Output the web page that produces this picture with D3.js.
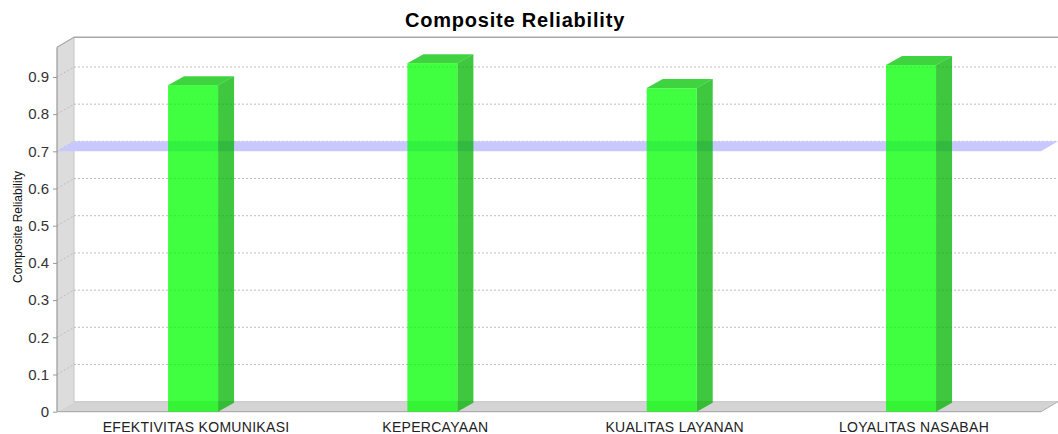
<!DOCTYPE html>
<html>
<head>
<meta charset="utf-8">
<script src="https://cdn.jsdelivr.net/npm/d3@7"></script>
<style>
  html, body { margin: 0; padding: 0; background: #fff; }
  svg { display: block; }
</style>
</head>
<body>
<svg id="chart" width="1058" height="434"></svg>
<script>
const categories = ["EFEKTIVITAS KOMUNIKASI", "KEPERCAYAAN", "KUALITAS LAYANAN", "LOYALITAS NASABAH"];
const values = [0.878, 0.937, 0.870, 0.932];
const yTicks = [0, 0.1, 0.2, 0.3, 0.4, 0.5, 0.6, 0.7, 0.8, 0.9];
const markerValue = 0.7;
const titleText = "Composite Reliability";
const yAxisLabel = "Composite Reliability";

const W = 1058, H = 434;
const svg = d3.select("#chart");
svg.append("rect").attr("width", W).attr("height", H).attr("fill", "#fff");

// geometry
const frontLeft = 57, frontRight = 1041;
const wallDx = 17, wallDy = -10;
const barDx = 16, barDy = -9;
const y = d3.scaleLinear().domain([0, 0.98]).range([411.7, 47.2]);
const x = d3.scaleBand().domain(categories).range([73.4, 1030.7]).paddingInner(0.791).paddingOuter(0.3955);

const y0 = y(0), yTop = y(0.98);
const line = d3.line();

// left wall
svg.append("path")
  .attr("d", line([[frontLeft, yTop], [frontLeft + wallDx, yTop + wallDy], [frontLeft + wallDx, y0 + wallDy], [frontLeft, y0]]) + "Z")
  .attr("fill", "#dcdcdc").attr("stroke", "none");
// floor
svg.append("path")
  .attr("d", line([[frontLeft, y0], [frontLeft + wallDx, y0 + wallDy], [frontRight + wallDx, y0 + wallDy], [frontRight, y0]]) + "Z")
  .attr("fill", "#d4d4d4").attr("stroke", "none");

// wall edges
svg.append("line").attr("x1", frontLeft + wallDx).attr("x2", frontLeft + wallDx)
  .attr("y1", yTop + wallDy).attr("y2", y0 + wallDy).attr("stroke", "#c4c4c4").attr("stroke-width", 1);
svg.append("line").attr("x1", frontLeft + wallDx).attr("x2", frontRight + wallDx)
  .attr("y1", y0 + wallDy).attr("y2", y0 + wallDy).attr("stroke", "#c4c4c4").attr("stroke-width", 1);
svg.append("line").attr("x1", frontRight).attr("x2", frontRight + wallDx)
  .attr("y1", y0).attr("y2", y0 + wallDy).attr("stroke", "#b0b0b0").attr("stroke-width", 1);

// grid lines
const grid = svg.append("g");
yTicks.filter(v => v > 0).forEach(v => {
  const yy = y(v);
  grid.append("line").attr("x1", frontLeft + wallDx).attr("x2", frontRight + wallDx)
    .attr("y1", yy + wallDy).attr("y2", yy + wallDy)
    .attr("stroke", "#bdbdbd").attr("stroke-width", 1).attr("stroke-dasharray", "2,2");
  grid.append("line").attr("x1", frontLeft).attr("x2", frontLeft + wallDx)
    .attr("y1", yy).attr("y2", yy + wallDy)
    .attr("stroke", "#bdbdbd").attr("stroke-width", 1).attr("stroke-dasharray", "2,2");
});

// top border lines
svg.append("line").attr("x1", frontLeft + wallDx).attr("x2", frontRight + wallDx)
  .attr("y1", yTop + wallDy).attr("y2", yTop + wallDy).attr("stroke", "#a8a8a8").attr("stroke-width", 1.5);
svg.append("line").attr("x1", frontLeft).attr("x2", frontLeft + wallDx)
  .attr("y1", yTop).attr("y2", yTop + wallDy).attr("stroke", "#a8a8a8").attr("stroke-width", 1.2);

// marker band at 0.7
const ym = y(markerValue);
svg.append("path")
  .attr("d", line([[frontLeft, ym], [frontLeft + wallDx, ym + wallDy], [frontRight + wallDx, ym + wallDy], [frontRight, ym]]) + "Z")
  .attr("fill", "#c8c8ff");

// axis line
svg.append("line").attr("x1", frontLeft).attr("x2", frontLeft).attr("y1", yTop).attr("y2", y0)
  .attr("stroke", "#999").attr("stroke-width", 1.2);
svg.append("line").attr("x1", frontLeft).attr("x2", frontRight).attr("y1", y0).attr("y2", y0)
  .attr("stroke", "#a0a0a0").attr("stroke-width", 1);

// y axis ticks/labels using d3 axis
const yAxis = d3.axisLeft(y).tickValues(yTicks).tickSize(4).tickPadding(4)
  .tickFormat(d => d === 0 ? "0" : d3.format(".1f")(d));
const ga = svg.append("g").attr("transform", `translate(${frontLeft},0)`).call(yAxis);
ga.select(".domain").remove();
ga.selectAll(".tick line").attr("stroke", "#999");
ga.selectAll(".tick text").attr("fill", "#333").attr("font-family", "Liberation Sans, Arial, sans-serif")
  .attr("font-size", 15);

// bars
const bw = x.bandwidth();
const bars = svg.append("g");
categories.forEach((c, i) => {
  const x0 = x(c), yv = y(values[i]);
  bars.append("path")
    .attr("d", line([[x0 + bw, yv], [x0 + bw + barDx, yv + barDy], [x0 + bw + barDx, y0 + barDy], [x0 + bw, y0]]) + "Z")
    .attr("fill", "#00b400").attr("fill-opacity", 0.75);
  bars.append("path")
    .attr("d", line([[x0, yv], [x0 + barDx, yv + barDy], [x0 + bw + barDx, yv + barDy], [x0 + bw, yv]]) + "Z")
    .attr("fill", "#00c400").attr("fill-opacity", 0.75);
  bars.append("rect").attr("x", x0).attr("y", yv).attr("width", bw).attr("height", y0 - yv)
    .attr("fill", "#00ff00").attr("fill-opacity", 0.75);
});

// category labels
svg.append("g").selectAll("text").data(categories).join("text")
  .attr("x", d => x(d) + bw / 2 + 3)
  .attr("y", 432)
  .attr("text-anchor", "middle")
  .attr("font-family", "Liberation Sans, Arial, sans-serif")
  .attr("font-size", 14)
  .attr("letter-spacing", 0.3)
  .attr("fill", "#222")
  .text(d => d);

// title
svg.append("text").attr("x", 515).attr("y", 27).attr("text-anchor", "middle")
  .attr("font-family", "Liberation Sans, Arial, sans-serif").attr("font-weight", "bold")
  .attr("font-size", 20).attr("letter-spacing", 0.8).attr("fill", "#000").text(titleText);

// y axis label
svg.append("text").attr("transform", "translate(22,227) rotate(-90)")
  .attr("text-anchor", "middle").attr("font-family", "Liberation Sans, Arial, sans-serif")
  .attr("font-size", 12).attr("fill", "#111").text(yAxisLabel);
</script>
</body>
</html>
